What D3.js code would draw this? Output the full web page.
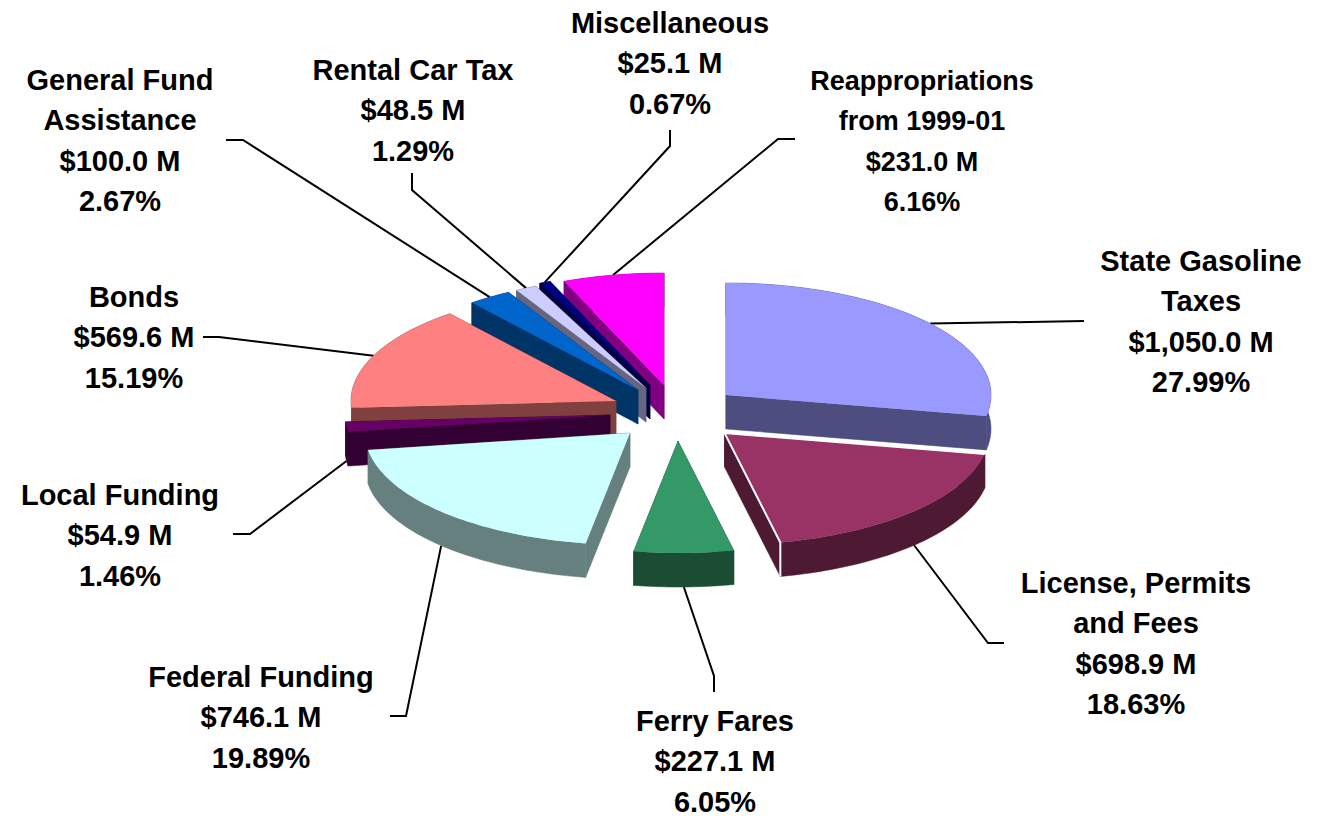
<!DOCTYPE html>
<html><head><meta charset="utf-8">
<script src="https://cdn.jsdelivr.net/npm/d3@7/dist/d3.min.js"></script>
<style>html,body{margin:0;padding:0;background:#fff}svg{display:block}</style>
</head><body><div id="chart"></div>
<script>
const categories = ["State Gasoline Taxes","License, Permits and Fees","Ferry Fares","Federal Funding","Local Funding","Bonds","General Fund Assistance","Rental Car Tax","Miscellaneous","Reappropriations from 1999-01"];
const values = [1050.0,698.9,227.1,746.1,54.9,569.6,100.0,48.5,25.1,231.0];
const amountLabels = ["$1,050.0 M","$698.9 M","$227.1 M","$746.1 M","$54.9 M","$569.6 M","$100.0 M","$48.5 M","$25.1 M","$231.0 M"];
const percentLabels = ["27.99%","18.63%","6.05%","19.89%","1.46%","15.19%","2.67%","1.29%","0.67%","6.16%"];
const nameLines = [["State Gasoline","Taxes"],["License, Permits","and Fees"],["Ferry Fares"],["Federal Funding"],["Local Funding"],["Bonds"],["General Fund","Assistance"],["Rental Car Tax"],["Miscellaneous"],["Reappropriations","from 1999-01"]];
const topColors = ["#9999FF","#993366","#339966","#CCFFFF","#660066","#FF8080","#0066CC","#CCCCFF","#000080","#FF00FF"];
const wallColors = ["#4D4D80","#4D1933","#1A4D33","#668080","#330033","#804040","#003366","#666680","#000040","#800080"];

// layout: exploded apex of every slice, label centre/baseline, leader elbow and end
const apexX = [726,724.5,678,630,610,616,638,646,650,664];
const apexY = [395,433,441,433,415,401,390,388,385,385];
const labelX = [1201,1136,715,261,120,134,120,413,670,922];
const labelY = [271,593,731,687,505,307,90,80,33,90];
const elbowX = [1084,988,714,406,250,219,243,412,670,778];
const elbowY = [321,643,676,716,534,337,140,190,146,139];
const endX = [1084,1004,714,390,233,203,226,412,670,795];
const endY = [321,643,692,716,534,337,140,173,130,139];
const drawOrder = [9,8,7,6,5,4,3,0,1,2];

const width = 1328, height = 816, rx = 265, ry = 112, depth = 34;
const svg = d3.select("#chart").append("svg").attr("width",width).attr("height",height)
  .attr("viewBox",`0 0 ${width} ${height}`);

const arcs = d3.pie().sort(null).value(d=>d)(values);
const line = d3.line();
const pt = (i,a,dy=0)=>[apexX[i]+rx*Math.sin(a), apexY[i]-ry*Math.cos(a)+dy];
const arcPts = (i,dy=0)=>{
  const {startAngle:s,endAngle:e}=arcs[i];
  const n=Math.max(3,Math.ceil((e-s)/0.02));
  return d3.range(n+1).map(k=>pt(i,s+(e-s)*k/n,dy));
};
const apex=(i,dy=0)=>[apexX[i],apexY[i]+dy];

const gLeaders = svg.append("g");
const gSlices = svg.append("g");
const gLabels = svg.append("g");

// leaders
categories.forEach((c,i)=>{
  const mid=(arcs[i].startAngle+arcs[i].endAngle)/2;
  const front=Math.cos(mid)<0;
  const p=pt(i,mid,front?depth:0);
  gLeaders.append("path").attr("fill","none").attr("stroke","#000").attr("stroke-width",2)
    .attr("d",line([p,[elbowX[i],elbowY[i]],[endX[i],endY[i]]]));
});

// slices, back to front
drawOrder.forEach(i=>{
  const top=arcPts(i), bottom=arcPts(i,depth);
  const g=gSlices.append("g").attr("class","slice");
  const first=top[0], last=top[top.length-1];
  const walls=[
    [apex(i),first,[first[0],first[1]+depth],apex(i,depth)],
    [apex(i),last,[last[0],last[1]+depth],apex(i,depth)],
    top.concat(bottom.slice().reverse())
  ];
  walls.forEach(w=>g.append("path").attr("d",line(w)+"Z").attr("fill",wallColors[i]).attr("stroke",wallColors[i]).attr("stroke-width",0.5));
  g.append("path").attr("d",line([apex(i),...top])+"Z").attr("fill",topColors[i]);
  if(i===1){
    // white edge highlight on this slice
    g.append("path").attr("fill","none").attr("stroke","#fff").attr("stroke-width",2)
      .attr("d",line([first,apex(i),last,[last[0],last[1]+depth]]));
  }
});

// labels
categories.forEach((c,i)=>{
  const lines=[...nameLines[i],amountLabels[i],percentLabels[i]];
  const t=gLabels.append("text").attr("text-anchor","middle")
    .attr("font-family","'Liberation Sans',Arial,sans-serif").attr("font-weight","bold")
    .attr("font-size",i===9?27:29).attr("fill","#000");
  lines.forEach((l,k)=>t.append("tspan").attr("x",labelX[i]).attr("y",labelY[i]+k*40.3).text(l));
});
</script></body></html>
